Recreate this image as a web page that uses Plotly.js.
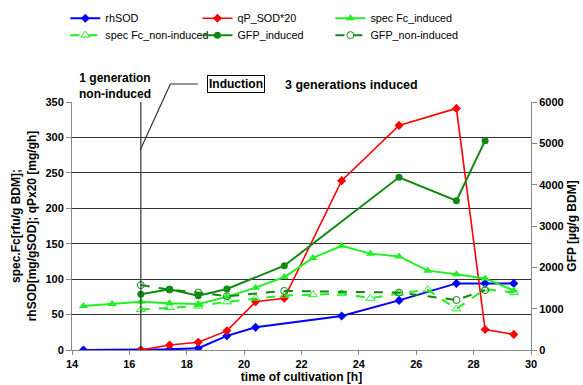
<!DOCTYPE html>
<html><head><meta charset="utf-8">
<script src="https://cdn.plot.ly/plotly-3.0.1.min.js"></script>
<style>html,body{margin:0;padding:0;background:#fff}#chart{width:583px;height:385px}</style>
</head><body><div id="chart"></div>
<script>
// Data
const tSOD = [14.4, 16.4, 17.4, 18.4, 19.4, 20.4, 23.4, 25.4, 27.4, 28.4, 29.4];
const rhSOD = [0, 0, 1, 2.5, 20, 32, 48, 70, 94, 94, 94];

const tQP = [16.4, 17.4, 18.4, 19.4, 20.4, 21.4, 23.4, 25.4, 27.4, 28.4, 29.4];
const qP20 = [0, 7, 11, 27, 68, 73, 239, 317, 341, 29, 22];

const tFc = [14.4, 15.4, 16.4, 17.4, 18.4, 19.4, 20.4, 21.4, 22.4, 23.4, 24.4, 25.4, 26.4, 27.4, 28.4, 29.4];
const fcInduced = [62, 65, 68, 66, 65, 75, 88, 103, 130, 147, 136, 132, 112, 107, 101, 84];

const tFcNon = [16.4, 17.4, 18.4, 19.4, 20.4, 21.4, 22.4, 23.4, 24.4, 25.4, 26.4, 27.4, 28.4, 29.4];
const fcNonInduced = [57, 60, 62, 68, 73, 77, 78, 80, 73, 80, 85, 58, 86, 81];

const tGFP = [16.4, 17.4, 18.4, 19.4, 21.4, 25.4, 27.4, 28.4];
const gfpInduced = [1348, 1468, 1314, 1476, 2040, 4178, 3613, 5064];
const gfpNonInduced = [1570, 1460, 1390, 1300, 1430, 1390, 1210, 1450];

const xTicks = [14, 16, 18, 20, 22, 24, 26, 28, 30];

const FONT = 'Liberation Sans, Arial, sans-serif';
const lightGreen = '#22ee22';
const darkGreen = '#118811';

const traces = [
  {x: tSOD, y: rhSOD, name: 'rhSOD', mode: 'lines+markers', legend: 'legend',
   line: {color: '#0000ff', width: 2}, marker: {symbol: 'diamond', size: 7, color: '#0000ff'}},
  {x: tQP, y: qP20, name: 'qP_SOD*20', mode: 'lines+markers', legend: 'legend2',
   line: {color: '#ff0000', width: 1.6}, marker: {symbol: 'diamond', size: 7, color: '#ff0000'}},
  {x: tFc, y: fcInduced, name: 'spec Fc_induced', mode: 'lines+markers', legend: 'legend3',
   line: {color: lightGreen, width: 2}, marker: {symbol: 'triangle-up', size: 8, color: lightGreen}},
  {x: tFcNon, y: fcNonInduced, name: 'spec Fc_non-induced', mode: 'lines+markers', legend: 'legend4',
   line: {color: lightGreen, width: 2, dash: 'dash'}, marker: {symbol: 'triangle-up-open', size: 8, color: lightGreen}},
  {x: tGFP, y: gfpInduced, name: 'GFP_induced', yaxis: 'y2', mode: 'lines+markers', legend: 'legend5',
   line: {color: darkGreen, width: 2}, marker: {symbol: 'circle', size: 7, color: darkGreen}},
  {x: tGFP, y: gfpNonInduced, name: 'GFP_non-induced', yaxis: 'y2', mode: 'lines+markers', legend: 'legend6',
   line: {color: darkGreen, width: 2, dash: 'dash'}, marker: {symbol: 'circle-open', size: 7, color: darkGreen}}
];

function leg(x, y) {
  return {orientation: 'v', x: x, y: y, xanchor: 'left', yanchor: 'middle',
    font: {size: 10.8, family: FONT}, tracegroupgap: 0,
    itemwidth: 30, bgcolor: 'rgba(0,0,0,0)'};
}
const colX = [-0.0145, 0.2733, 0.563];
const rowY = [1.338, 1.2696];

const layout = {
  width: 583, height: 385,
  margin: {l: 72, r: 52, t: 102, b: 35, autoexpand: false},
  paper_bgcolor: '#fff', plot_bgcolor: '#fff',
  font: {family: FONT, color: '#000', size: 11},
  showlegend: true,
  legend: leg(colX[0], rowY[0]),
  legend2: leg(colX[1], rowY[0]),
  legend3: leg(colX[2], rowY[0]),
  legend4: leg(colX[0], rowY[1]),
  legend5: leg(colX[1], rowY[1]),
  legend6: leg(colX[2], rowY[1]),
  xaxis: {range: [14, 30], tickvals: xTicks, ticktext: xTicks.map(String),
          showgrid: false, zeroline: false, showline: true, linecolor: '#888', linewidth: 1,
          ticks: 'outside', ticklen: 4, tickcolor: '#888',
          tickfont: {size: 11, family: FONT, weight: 'bold'},
          title: {text: '<b>time of cultivation [h]</b>', font: {size: 12, family: FONT}, standoff: 2}},
  yaxis: {range: [0, 350], dtick: 50, showgrid: true, gridcolor: '#333', gridwidth: 1,
          zeroline: false, showline: true, linecolor: '#888', ticks: 'outside', ticklen: 5, tickcolor: '#888',
          tickfont: {size: 11, family: FONT, weight: 'bold'},
          title: {text: '<b>spec.Fc[rfu/g BDM];<br>rhSOD[mg/gSOD]; qPx20 [mg/gh]</b>', font: {size: 12, family: FONT}, standoff: 6}},
  yaxis2: {range: [0, 6000], dtick: 1000, overlaying: 'y', side: 'right', showgrid: false,
           zeroline: false, showline: true, linecolor: '#888', ticks: 'outside', ticklen: 5, tickcolor: '#888',
           tickfont: {size: 11, family: FONT, weight: 'bold'},
           title: {text: '<b>GFP [µg/g BDM]</b>', font: {size: 12, family: FONT}, standoff: 4}},
  shapes: [
    {type: 'line', xref: 'x', yref: 'y', x0: 16.4, x1: 16.4, y0: 0, y1: 350,
     line: {color: '#333', width: 1.2}},
    {type: 'path', xref: 'paper', yref: 'paper',
     path: 'M 0.1485,0.806 L 0.2143,1.0726 L 0.274,1.0726',
     line: {color: '#333', width: 1.2}}
  ],
  annotations: [
    {xref: 'paper', yref: 'paper', x: 0.094, y: 1.063, xanchor: 'center', yanchor: 'middle',
     text: '<b>1 generation<br>non-induced</b>', showarrow: false, font: {size: 12, family: FONT}},
    {xref: 'paper', yref: 'paper', x: 0.358, y: 1.0726, xanchor: 'center', yanchor: 'middle',
     text: '<b>Induction</b>', showarrow: false, font: {size: 12, family: FONT},
     bordercolor: '#000', borderwidth: 1, borderpad: 1, bgcolor: '#fff'},
    {xref: 'paper', yref: 'paper', x: 0.459, y: 1.07, xanchor: 'left', yanchor: 'middle',
     text: '<b>3 generations induced</b>', showarrow: false, font: {size: 12.5, family: FONT}}
  ]
};

Plotly.newPlot('chart', traces, layout, {displayModeBar: false, staticPlot: true});
</script></body></html>
